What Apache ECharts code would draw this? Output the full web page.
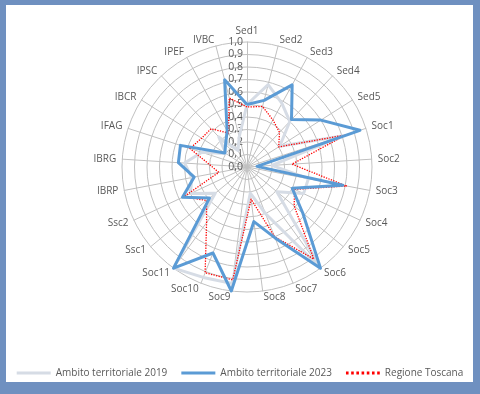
<!DOCTYPE html>
<html>
<head>
<meta charset="utf-8">
<script src="https://cdn.jsdelivr.net/npm/echarts@6/dist/echarts.min.js"></script>
<style>
  html, body { margin: 0; padding: 0; }
  #wrap { position: relative; width: 480px; height: 394px; background: #6f90c0; overflow: hidden; }
  #panel { position: absolute; left: 6px; top: 5px; width: 467px; height: 377px; background: #ffffff; }
  #chart { position: absolute; left: 0; top: 0; width: 480px; height: 394px; }
</style>
</head>
<body>
<div id="wrap"><div id="panel"></div><div id="chart"></div></div>
<script>
const indicators = ['Sed1','Sed2','Sed3','Sed4','Sed5','Soc1','Soc2','Soc3','Soc4','Soc5','Soc6','Soc7','Soc8','Soc9','Soc10','Soc11','Ssc1','Ssc2','IBRP','IBRG','IFAG','IBCR','IPSC','IPEF','IVBC'];
const ambito2019 = [0.50,0.68,0.58,0.50,0.31,0.80,0.20,0.50,0.50,0.31,1.00,0.40,0.21,0.94,0.95,1.00,0.33,0.50,0.45,0.50,0.38,0.20,0.33,0.15,0.25];
const ambito2023 = [0.50,0.55,0.75,0.52,0.70,0.95,0.08,0.78,0.40,0.58,1.00,0.61,0.44,1.00,0.74,1.00,0.39,0.57,0.43,0.55,0.56,0.21,0.25,0.33,0.72];
const toscana    = [0.48,0.50,0.43,0.38,0.30,0.83,0.36,0.81,0.42,0.49,0.91,0.60,0.26,0.91,0.91,0.55,0.42,0.56,0.23,0.30,0.48,0.43,0.42,0.31,0.57];
const seriesNames = ['Ambito territoriale 2019','Ambito territoriale 2023','Regione Toscana'];

// ECharts radar runs counter-clockwise; reorder so the chart reads clockwise from the top.
const order = [0];
for (let i = indicators.length - 1; i >= 1; i--) order.push(i);
const pick = arr => order.map(i => arr[i]);

const FONT = '"Open Sans", "Noto Sans", sans-serif';
const TXT = '#595959';
const GRID = '#c0c0c0';
const C2019 = '#d6dce5', C2023 = '#5b9bd5', CTOS = '#ff0000';

// legend icon shapes (drawn by ECharts' legend)
const solidIcon = 'path://M0,0H34V3H0Z';
let dots = '';
for (let k = 0; k < 7; k++) { const x = k * 5.2; dots += 'M' + x + ',0H' + (x + 2.6) + 'V3H' + x + 'Z'; }
const dotIcon = 'path://' + dots;

const chart = echarts.init(document.getElementById('chart'), null, { renderer: 'canvas' });
chart.setOption({
  animation: false,
  textStyle: { fontFamily: FONT },
  legend: {
    data: [
      { name: seriesNames[0], icon: solidIcon },
      { name: seriesNames[1], icon: solidIcon },
      { name: seriesNames[2], icon: dotIcon }
    ],
    bottom: 11,
    left: 'center',
    width: 470,
    itemWidth: 34,
    itemHeight: 3,
    itemGap: 14,
    textStyle: { color: TXT, fontSize: 10, fontFamily: FONT }
  },
  radar: {
    center: [247, 167],
    radius: 125,
    startAngle: 90,
    shape: 'circle',
    splitNumber: 10,
    indicator: pick(indicators).map(n => ({ name: n, min: 0, max: 1 })),
    axisName: { color: TXT, fontSize: 10, fontFamily: FONT },
    nameGap: 6,
    axisLine: { lineStyle: { color: GRID, width: 1 } },
    splitLine: { lineStyle: { color: GRID, width: 1 } },
    splitArea: { show: false },
    axisTick: { show: false },
    axisLabel: { show: false }
  },
  polar: { center: [247, 167], radius: 125 },
  angleAxis: { show: false, startAngle: 90, min: 0, max: 360 },
  radiusAxis: {
    min: 0, max: 1, interval: 0.1,
    axisLine: { show: false },
    axisTick: { show: false },
    splitLine: { show: false },
    axisLabel: {
      color: TXT, fontSize: 10.5, fontFamily: FONT, margin: 4,
      formatter: v => v.toFixed(1).replace('.', ',')
    }
  },
  series: [
    {
      type: 'radar',
      name: 'radar',
      symbol: 'none',
      data: [
        { name: seriesNames[0], value: pick(ambito2019), lineStyle: { color: C2019, width: 3 }, itemStyle: { color: C2019 } },
        { name: seriesNames[2], value: pick(toscana), lineStyle: { color: CTOS, width: 1.3, type: 'dotted' }, itemStyle: { color: CTOS } },
        { name: seriesNames[1], value: pick(ambito2023), lineStyle: { color: C2023, width: 3 }, itemStyle: { color: C2023 } }
      ]
    }
  ]
});
</script>
</body>
</html>
